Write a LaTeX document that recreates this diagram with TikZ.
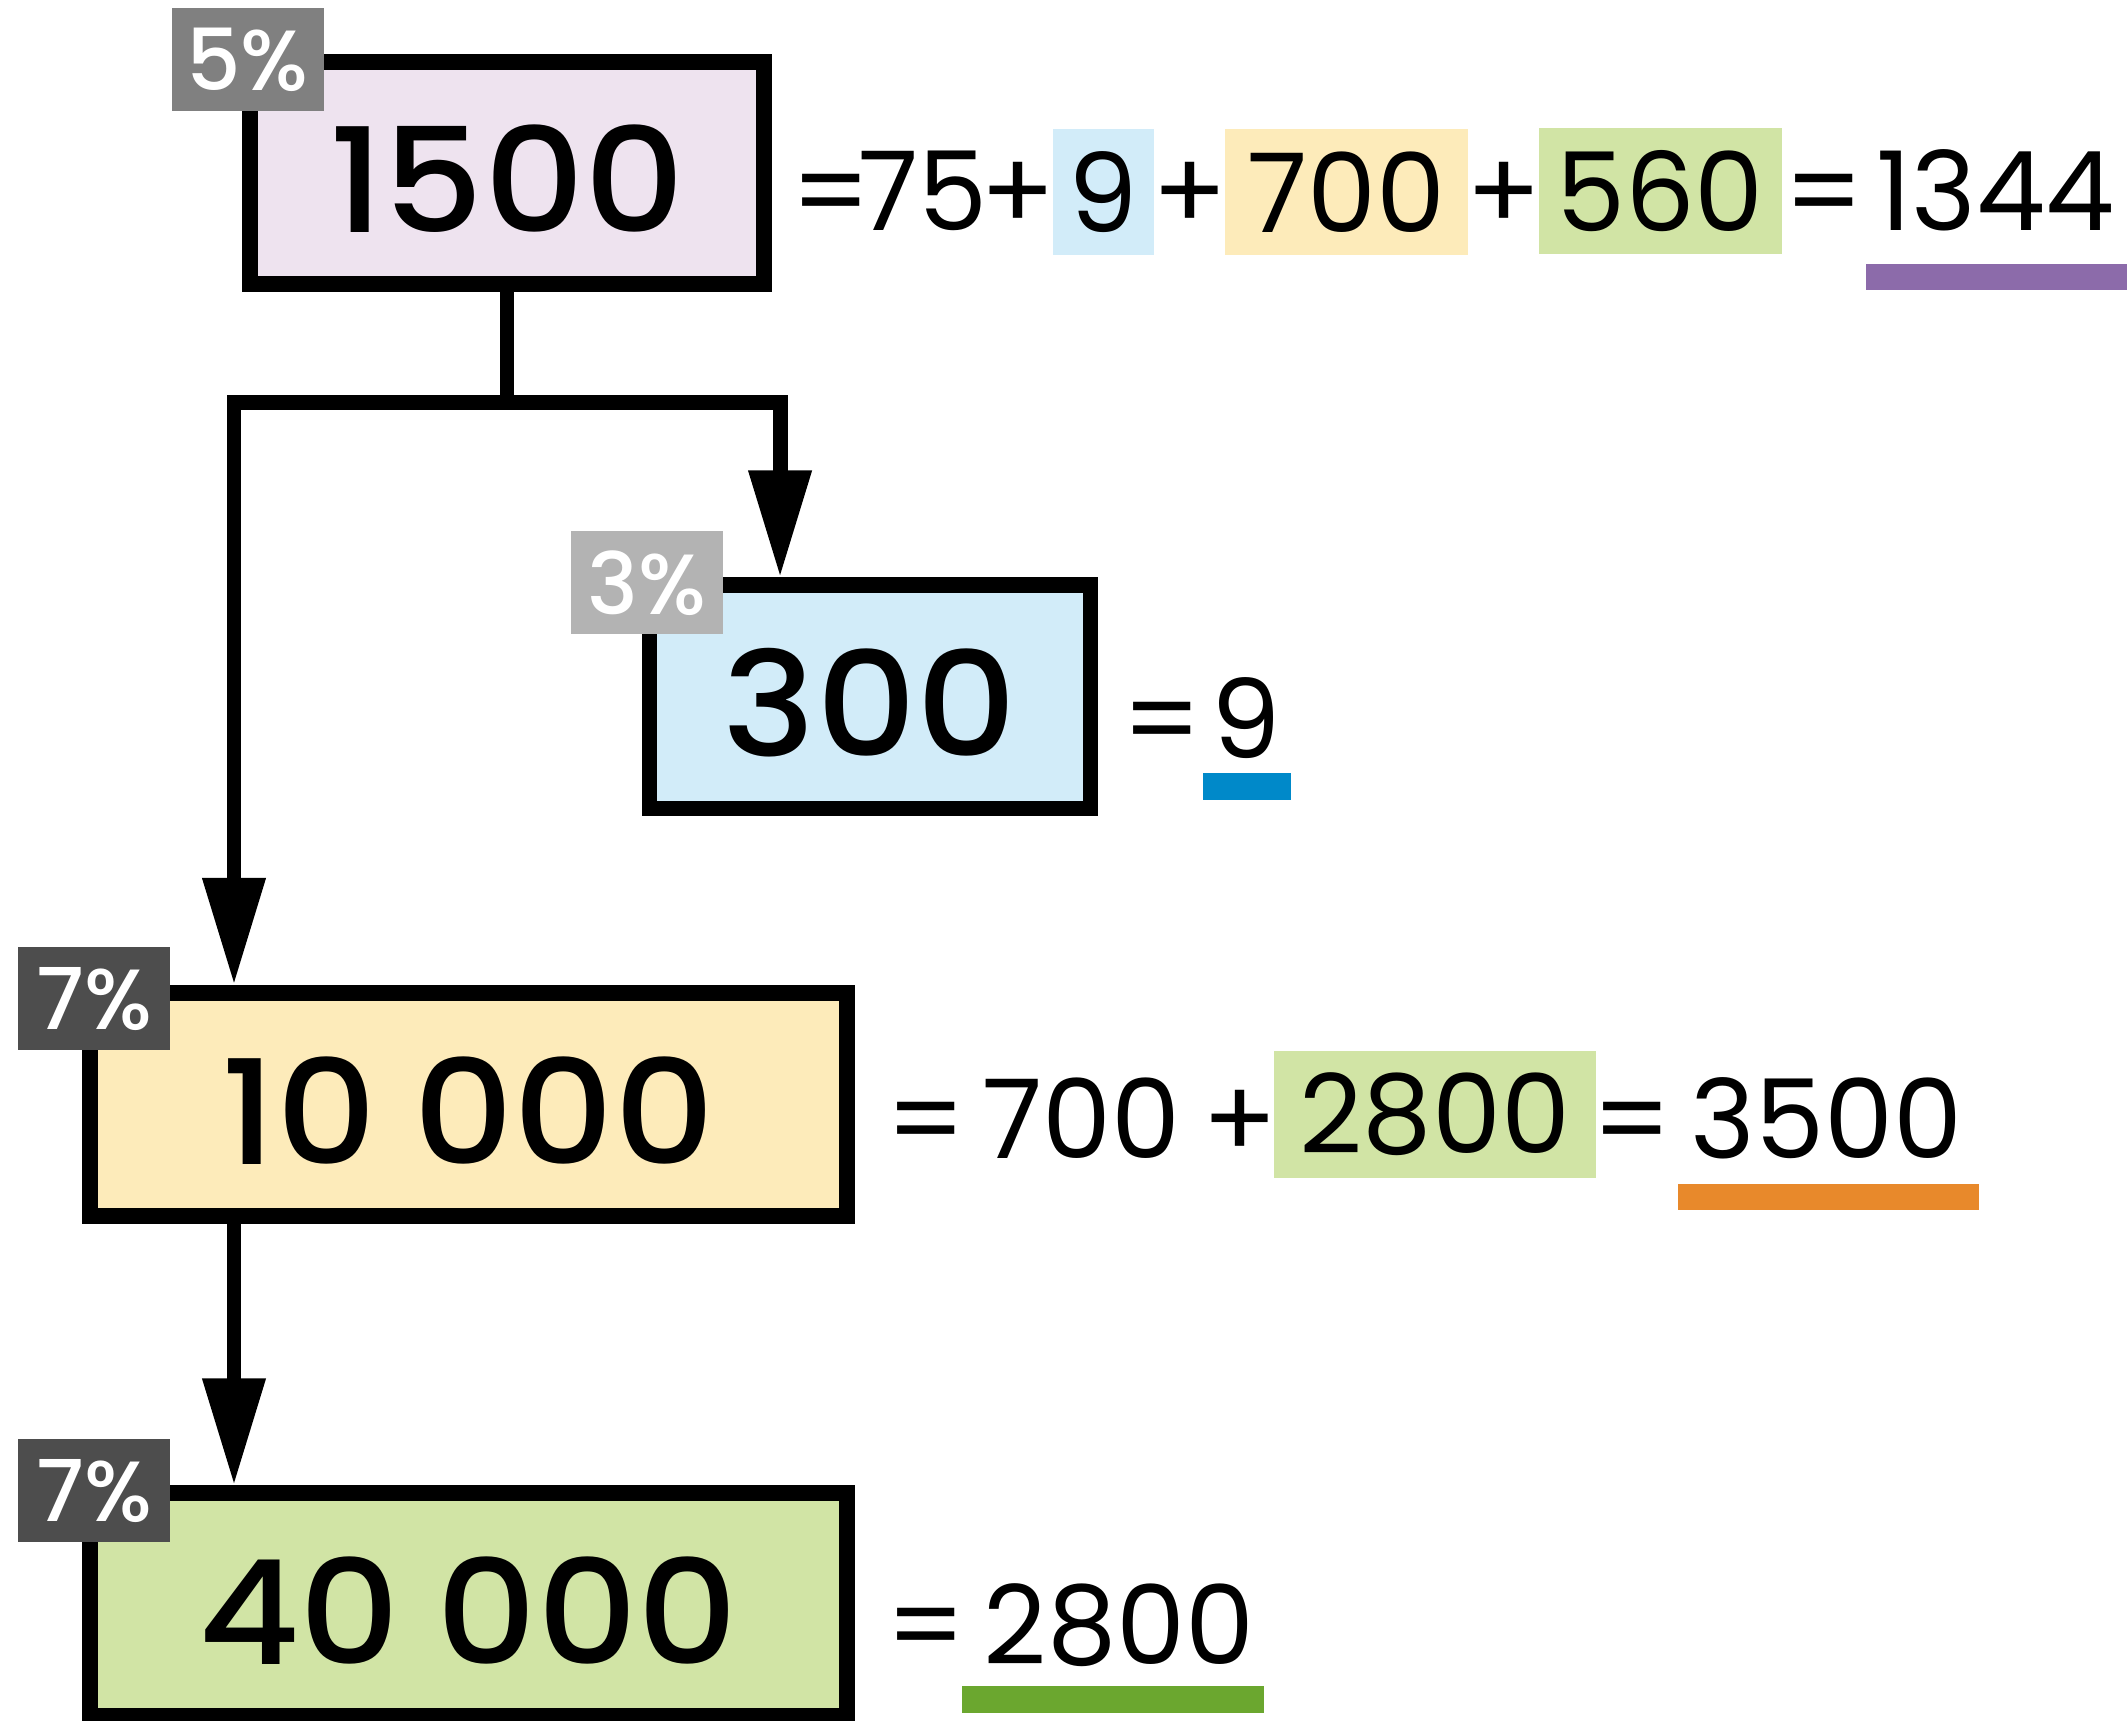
\documentclass[tikz,border=0pt]{standalone}
\usepackage{fontspec}
\setmainfont{Poppins}
\newfontfamily\boxfont{Poppins Medium}[FakeStretch=1.08]
\newfontfamily\tagfont{Poppins Medium}
\usetikzlibrary{calc,positioning,arrows.meta}

\definecolor{lila}{RGB}{238,227,239}
\definecolor{hellblau}{RGB}{210,236,249}
\definecolor{hellgelb}{RGB}{253,235,186}
\definecolor{hellgruen}{RGB}{209,228,165}
\definecolor{grau5}{RGB}{128,128,128}
\definecolor{grau3}{RGB}{179,179,179}
\definecolor{grau7}{RGB}{77,77,77}
\definecolor{lilalinie}{RGB}{140,107,170}
\definecolor{blaulinie}{RGB}{0,137,201}
\definecolor{orangelinie}{RGB}{232,137,43}
\definecolor{gruenlinie}{RGB}{107,167,47}

\begin{document}
\begin{tikzpicture}[
	x=1pt,y=-1pt,
	linie/.style={
	draw=black,solid,line width=11pt,
	},
	pfeil/.style={-{Triangle[length=79pt,width=44pt]}},
	zahl/.style={draw=black,line width=11.5pt,inner sep=0pt,
	text height=88pt,text depth=0pt,
	font=\boxfont\fontsize{107}{107}\selectfont},
	prozent/.style={minimum width=112pt,minimum height=76pt,inner sep=0pt,
	text=white,font=\tagfont\fontsize{63}{63}\selectfont},
	rech/.style={anchor=base,inner sep=0pt,font=\fontsize{81}{81}\selectfont},
	hilite/.style={inner sep=0pt,minimum height=93pt,font=\fontsize{81}{81}\selectfont}
	]

\useasboundingbox (0,0) rectangle (1568,1268);

% boxes
\node[zahl,fill=lila,minimum width=379pt,minimum height=164pt] (n1500) at (373.75,127.5) {1500};
\node[zahl,fill=hellblau,minimum width=325pt,minimum height=164.5pt] (n300) at (641.3,513.7) {300};
\node[zahl,fill=hellgelb,minimum width=558pt,minimum height=164.4pt] (n10000) at (345.25,814.1) {10\hspace{.25em}000};
\node[zahl,fill=hellgruen,minimum width=558pt,minimum height=164.4pt] (n40000) at (345.25,1183) {40\hspace{.25em}000};

\node[prozent,fill=grau5] (p1500) at ($(n1500.north west)+(4,4)$) {5\%};
\node[prozent,fill=grau3] (p300) at ($(n300.north west)+(4,4)$) {3\%};
\node[prozent,fill=grau7] (p10000) at ($(n10000.north west)+(9,10)$) {7\%};
\node[prozent,fill=grau7] (p40000) at ($(n40000.north west)+(9,4)$) {7\%};

% arrows
\coordinate (ein300) at ($(n300.north west)+(102,0)$);
\coordinate (ein10000) at ($(n10000.north west)+(112,0)$);
\coordinate (ein40000) at ($(n40000.north west)+(112,0)$);
\draw [linie] (n1500.south) -- ++(0,81.4) coordinate (gabel);
\draw [linie, pfeil] (gabel) -| (ein300);
\draw [linie, pfeil] (gabel) -| (ein10000);
\draw [linie, pfeil] (n10000.south -| ein10000) -- (ein40000);

% 1500
\node[rech] (g1a) at (613,170) {=};
\node[rech] (s75) at (680.5,170) {75};
\node[rech] (g1b) at (750.5,170) {+};
\node[hilite,fill=hellblau,minimum width=75pt] (h9) at (813.5,141.5) {9};
\node[rech] (g1c) at (877,170) {+};
\node[hilite,fill=hellgelb,minimum width=179pt] (h700) at (992.5,141.5) {700};
\node[rech] (g1d) at (1109,170) {+};
\node[hilite,fill=hellgruen,minimum width=179pt] (h560) at (1223.8,141) {560};
\node[rech] (g1e) at (1345,170) {=};
\node[rech] (s1344) at (1471,170) {1344};
\fill[lilalinie] (1375.6,194.5) rectangle (1568,213.5);

% 300
\node[rech] (g2a) at (856.5,559) {=};
\node[rech] (s9) at (918.6,559) {9};
\fill[blaulinie] (886.6,570) rectangle (951.6,589.6);

% 10000
\node[rech] (g3a) at (682.5,854) {=};
\node[rech] (s700) at (797,854) {700};
\node[rech] (g3b) at (914,854) {+};
\node[hilite,fill=hellgruen,minimum width=237.6pt] (h2800) at (1057.8,821.6) {2800};
\node[rech] (g3c) at (1203,854) {=};
\node[rech] (s3500) at (1346.6,854) {3500};
\fill[orangelinie] (1236.7,872.6) rectangle (1459,891.9);

% 40000
\node[rech] (g4a) at (682.5,1227) {=};
\node[rech] (s2800) at (825,1227) {2800};
\fill[gruenlinie] (709,1243) rectangle (931.8,1262.6);

\end{tikzpicture}
\end{document}
